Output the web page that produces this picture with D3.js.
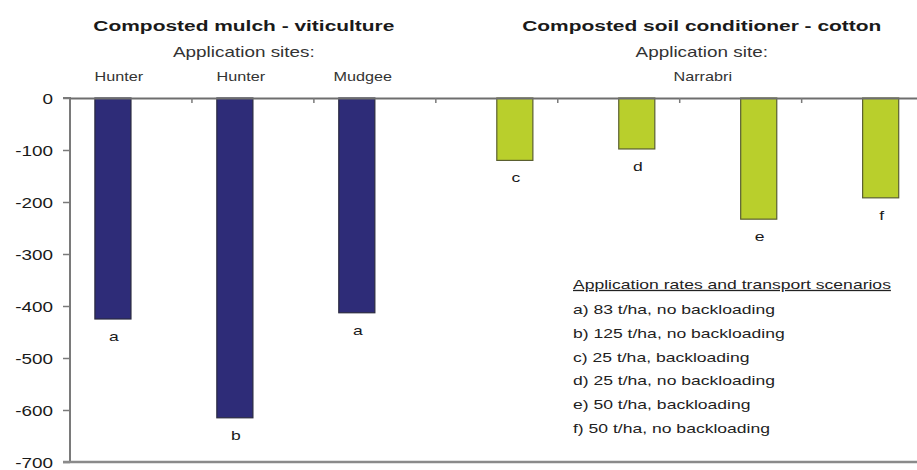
<!DOCTYPE html>
<html><head><meta charset="utf-8">
<script src="https://cdn.jsdelivr.net/npm/d3@7"></script>
<style>html,body{margin:0;padding:0;background:#fff;}svg{display:block;}</style>
</head><body>
<svg id="chart" width="917" height="470"></svg>
<script>
// ---- data ----
const categories = ["cat1","cat2","cat3","cat4","cat5","cat6","cat7"];
const scenarioLetters = ["a","b","a","c","d","e","f"];
const sites = ["Hunter","Hunter","Mudgee"];
const viticulture = [-425, -615, -413, null, null, null, null];
const cotton = [null, null, null, -120, -98, -233, -192];
const seriesNames = ["Composted mulch - viticulture", "Composted soil conditioner - cotton"];
const subTitles = ["Application sites:", "Application site:"];
const cottonSite = "Narrabri";
const yTicks = [0, -100, -200, -300, -400, -500, -600, -700];
const legendTitle = "Application rates and transport scenarios";
const legendItems = ["a) 83 t/ha, no backloading","b) 125 t/ha, no backloading","c) 25 t/ha, backloading","d) 25 t/ha, no backloading","e) 50 t/ha, backloading","f) 50 t/ha, no backloading"];

// ---- layout ----
const SX = 1.35;
const svg = d3.select("#chart");
const plotLeft = 70, plotRight = 923.6, plotTop = 98, plotBottom = 462;
const x = d3.scaleBand().domain(categories).range([plotLeft, plotRight]).paddingInner(0).paddingOuter(0);
const xs = d3.scaleBand().domain([0,1]).range([0, x.bandwidth()]).paddingInner(0).paddingOuter(0.69);
const y = d3.scaleLinear().domain([-700, 0]).range([plotBottom, plotTop]);
const colors = ["#2e2c78", "#b9cf2c"];
const strokes = ["#2a2a40", "#5a5f30"];
const font = "'Liberation Sans', Arial, sans-serif";

function stext(g, px, py, str, size, anchor, weight, fill) {
  return g.append("text")
    .attr("transform", `translate(${px},${py}) scale(${SX},1)`)
    .attr("text-anchor", anchor || "middle")
    .style("font-family", font)
    .style("font-size", size + "px")
    .style("font-weight", weight || "normal")
    .style("fill", fill || "#1a1a1a")
    .text(str);
}

// bars
const series = [viticulture, cotton];
const bars = [];
series.forEach((vals, si) => {
  vals.forEach((v, i) => {
    if (v === null) return;
    bars.push({cat: categories[i], i, si, v});
  });
});
svg.append("g").selectAll("rect").data(bars).join("rect")
  .attr("x", d => x(d.cat) + xs(d.si))
  .attr("y", y(0))
  .attr("width", xs.bandwidth())
  .attr("height", d => y(d.v) - y(0))
  .attr("fill", d => colors[d.si])
  .attr("stroke", d => strokes[d.si])
  .attr("stroke-width", 1.2);

// bar letters
const lg = svg.append("g");
bars.forEach(d => {
  stext(lg, x(d.cat) + xs(d.si) + xs.bandwidth()/2 + 1, y(d.v) + 22, scenarioLetters[d.i], 13);
});

// y axis
const yAxis = d3.axisLeft(y).tickValues(yTicks).tickSize(7).tickPadding(10).tickFormat(d3.format("d"));
const ya = svg.append("g").attr("transform", `translate(${plotLeft},0)`).call(yAxis);
ya.select(".domain").attr("stroke", "#7a7a7a").attr("stroke-width", 2).attr("d", `M-7,${plotTop}H0V${plotBottom}H-7`);
ya.selectAll(".tick line").attr("stroke", "#7a7a7a").attr("stroke-width", 1.5);
ya.selectAll(".tick text").remove();
yTicks.forEach(t => stext(ya, -17, y(t) + 6, String(t), 14, "end"));

// bottom line
svg.append("line").attr("x1", plotLeft - 7).attr("x2", 917).attr("y1", plotBottom).attr("y2", plotBottom)
  .attr("stroke", "#8a8a8a").attr("stroke-width", 2.5);

// zero line with top ticks at band boundaries
const xAxis = d3.axisBottom(x).tickSize(0).tickFormat("");
const xa = svg.append("g").attr("transform", `translate(0,${y(0)})`).call(xAxis);
xa.select(".domain").attr("stroke", "#6e6e6e").attr("stroke-width", 2);
xa.selectAll(".tick").remove();
categories.slice(1).forEach(c => {
  xa.append("line").attr("x1", x(c)).attr("x2", x(c)).attr("y1", 0).attr("y2", 5)
    .attr("stroke", "#7a7a7a").attr("stroke-width", 1.5);
});

// headers
const hg = svg.append("g");
const vitCenters = [0,1,2].map(i => x(categories[i]) + xs(0) + xs.bandwidth()/2);
const cotCenters = [3,4,5,6].map(i => x(categories[i]) + xs(1) + xs.bandwidth()/2);
const vitMid = d3.mean(vitCenters) + 9;
const cotMid = d3.mean(cotCenters) + 4;
stext(hg, vitMid, 31, seriesNames[0], 15.5, "middle", "bold");
stext(hg, cotMid, 31, seriesNames[1], 15.5, "middle", "bold");
stext(hg, vitMid, 57, subTitles[0], 14, "middle", "normal", "#333");
stext(hg, cotMid, 57, subTitles[1], 14, "middle", "normal", "#333");
sites.forEach((s, i) => stext(hg, vitCenters[i] + 6, 81, s, 12, "middle", "normal", "#333"));
stext(hg, cotMid + 1, 81, cottonSite, 12, "middle", "normal", "#333");

// legend text
const leg = svg.append("g");
stext(leg, 573, 289, legendTitle, 13, "start", "normal", "#222").style("text-decoration", "underline");
legendItems.forEach((t, i) => stext(leg, 573, 314 + i * 23.8, t, 13, "start", "normal", "#222"));
</script>
</body></html>
